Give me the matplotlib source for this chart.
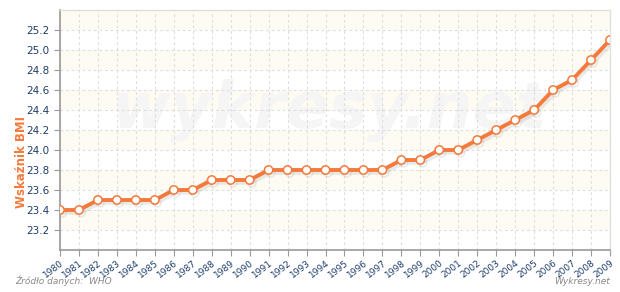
import matplotlib
matplotlib.use("Agg")
import matplotlib.pyplot as plt
import matplotlib.patheffects as pe
import numpy as np

years = list(range(1980, 2010))
bmi = [23.4, 23.4, 23.5, 23.5, 23.5, 23.5, 23.6, 23.6, 23.7, 23.7,
       23.7, 23.8, 23.8, 23.8, 23.8, 23.8, 23.8, 23.8, 23.9, 23.9,
       24.0, 24.0, 24.1, 24.2, 24.3, 24.4, 24.6, 24.7, 24.9, 25.1]
yticks = [23.2, 23.4, 23.6, 23.8, 24.0, 24.2, 24.4, 24.6, 24.8, 25.0, 25.2]
ylabel = "Wskaźnik BMI"
source = "Źródło danych:  WHO"
brand = "Wykresy.net"

W, H = 620, 292
fig = plt.figure(figsize=(W / 100, H / 100), dpi=100)
ax = fig.add_axes([60 / W, (H - 250) / H, 550 / W, 240 / H])

ax.set_xlim(1980, 2009)
ax.set_ylim(23.0, 25.4)

# alternating bands
for lo in np.arange(23.2, 25.3, 0.4):
    ax.axhspan(lo, lo + 0.2, color="#FEFBF2", zorder=0, lw=0)

ax.set_xticks(years)
ax.set_yticks(yticks)
ax.grid(True, color="#DEDEDE", linestyle=(0, (2.5, 2.5)), linewidth=0.8, zorder=1)

# watermark
ax.text(0.49, 0.58, "wykresy.net", transform=ax.transAxes, fontsize=46,
        fontweight="bold", style="italic", color="#F5F5F5", ha="center",
        va="center", zorder=1)

ax.plot(years, bmi, color="#F47A3C", lw=2.8, zorder=3,
        marker="o", markersize=6, markerfacecolor="white",
        markeredgecolor="#F47A3C", markeredgewidth=1.1,
        path_effects=[pe.SimpleLineShadow(offset=(1.5, -2), shadow_color="#999999", alpha=0.2),
                      pe.Normal()])

for s in ["left", "bottom"]:
    ax.spines[s].set_color("#999999")
    ax.spines[s].set_linewidth(1.2)
for s in ["top", "right"]:
    ax.spines[s].set_color("#E0E0E0")
    ax.spines[s].set_linewidth(1.0)

ax.tick_params(axis="both", colors="#999999", labelcolor="#1F3D6B", labelsize=7, length=4, width=0.8)
ax.set_yticklabels([f"{v:.1f}" for v in yticks], fontsize=7.5)
ax.set_xticklabels([str(y) for y in years], rotation=38, ha="right",
                   rotation_mode="anchor", fontsize=6.5)
ax.tick_params(axis="x", pad=2)

fig.text(22 / W, 130 / H, ylabel, rotation=90, color="#F47A3C", fontsize=8.5,
         fontweight="bold", ha="center", va="center")
fig.text(15 / W, (H - 286) / H, source, color="#888888", fontsize=6.5, style="italic",
         ha="left", va="bottom")
fig.text(610 / W, (H - 286) / H, brand, color="#888888", fontsize=6.5, style="italic",
         ha="right", va="bottom")

fig.savefig("out.png", dpi=100)
